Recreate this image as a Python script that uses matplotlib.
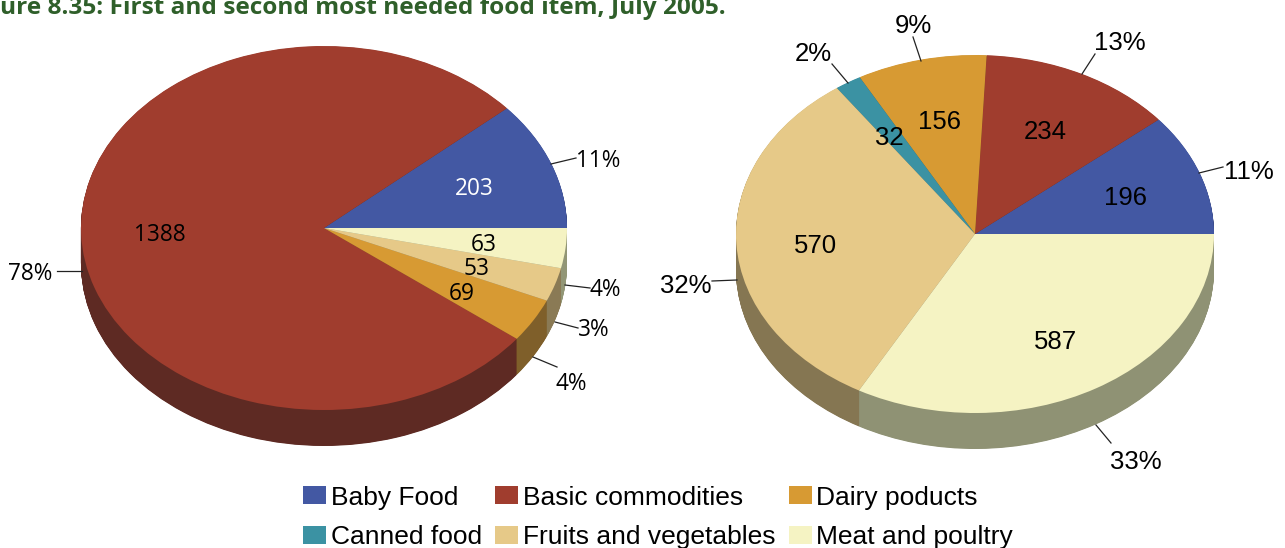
import matplotlib
matplotlib.use("Agg")
import matplotlib.pyplot as plt
from matplotlib.patches import Patch

W, H = 1285, 548

# data
left_values = [203, 1388, 69, 53, 63]
left_colors = ['#4358a3', '#a03d2e', '#d79a33', '#e6c988', '#f5f3c3']
left_side = ['#2c3a6c', '#5e2a23', '#7f5f2a', '#8a7a55', '#929676']
right_values = [196, 234, 156, 32, 570, 587]
right_colors = ['#4358a3', '#a03d2e', '#d79a33', '#3b92a3', '#e6c988', '#f5f3c3']
right_side = ['#2c3a6c', '#5e2a23', '#7f5f2a', '#25606c', '#857652', '#8f9274']
legend_names = ['Baby Food', 'Canned food', 'Basic commodities',
                'Fruits and vegetables', 'Dairy poducts', 'Meat and poultry']
legend_colors = ['#4358a3', '#3b92a3', '#a03d2e', '#e6c988', '#d79a33', '#f5f3c3']
left_pct = ['11%', '78%', '4%', '3%', '4%']
right_pct = ['11%', '13%', '9%', '2%', '32%', '33%']
title = 'ure 8.35: First and second most needed food item, July 2005.'

fig = plt.figure(figsize=(W / 100, H / 100), dpi=100)


# pseudo 3d pie: stack of dark pies, then the top one
def pie3d(values, colors, side, cx, cy, rx, ry, depth):
    ax = fig.add_axes([(cx - rx) / W, 1 - (cy + ry + depth) / H,
                       2 * rx / W, (2 * ry + depth) / H])
    d = depth
    while d > 0:
        ax.pie(values, colors=side, startangle=0, counterclock=True,
               center=(0, -d / ry), radius=1, frame=False)
        d -= 0.5
    ax.pie(values, colors=colors, startangle=0, counterclock=True,
           center=(0, 0), radius=1, frame=False)
    ax.set_aspect('auto')
    ax.set_xlim(-1, 1)
    ax.set_ylim(-1 - depth / ry, 1)
    ax.axis('off')


pie3d(left_values, left_colors, left_side, 324, 228, 243, 182, 36)
pie3d(right_values, right_colors, right_side, 975, 234, 239, 179, 36)

# overlay in pixel coordinates for labels
ov = fig.add_axes([0, 0, 1, 1])
ov.set_xlim(0, W)
ov.set_ylim(H, 0)
ov.axis('off')

ov.text(0, 14, title, color='#2f5f2a', fontsize=17.6, fontweight='bold',
        family='Open Sans', va='baseline', ha='left')

left_font = dict(family='Open Sans', fontsize=16.3, color='black',
                 ha='center', va='center')
right_font = dict(family='Liberation Sans', fontsize=18.5, color='black',
                  ha='center', va='center')

left_num_pos = [(474, 189), (160, 235), (462, 294), (477, 269), (484, 245)]
for v, (x, y) in zip(left_values, left_num_pos):
    f = dict(left_font)
    if v == 203:
        f['color'] = 'white'
    ov.text(x, y, str(v), **f)

left_pct_pos = [(598, 161), (30, 274), (605, 290), (594, 330), (571, 384)]
left_lines = [((551, 164), (576, 158)), ((82, 271), (57, 271)), ((565, 285), (590, 288)),
              ((555, 322), (578, 328)), ((533, 357), (557, 367))]
order = [0, 1, 4, 3, 2]
for i, p in zip(order, left_pct_pos):
    ov.text(p[0], p[1], left_pct[i], **left_font)
for a, b in left_lines:
    ov.plot([a[0], b[0]], [a[1], b[1]], color='#222222', lw=0.9)

right_num_pos = [(1125, 198), (1045, 132), (939, 122), (889, 138), (815, 246), (1055, 342)]
for v, (x, y) in zip(right_values, right_num_pos):
    ov.text(x, y, str(v), **right_font)

right_pct_pos = [(1249, 172), (1120, 43), (913, 26), (813, 54), (686, 286), (1136, 462)]
right_lines = [((1199, 173), (1223, 167)), ((1082, 74), (1095, 54)), ((921, 61), (913, 37)),
               ((848, 83), (832, 64)), ((737, 280), (712, 281)), ((1096, 425), (1111, 443))]
for t, p in zip(right_pct, right_pct_pos):
    ov.text(p[0], p[1], t, **right_font)
for a, b in right_lines:
    ov.plot([a[0], b[0]], [a[1], b[1]], color='#222222', lw=0.9)

handles = [Patch(facecolor=c, edgecolor='none') for c in legend_colors]
fig.legend(handles, legend_names, ncol=3, frameon=False,
           prop={'family': 'Liberation Sans', 'size': 19},
           loc='lower left', bbox_to_anchor=(282 / W, -22 / H), borderpad=0.3,
           handlelength=0.88, handleheight=0.66, handletextpad=0.17,
           columnspacing=0.5, labelspacing=0.58)

fig.savefig('out.png', dpi=100)
